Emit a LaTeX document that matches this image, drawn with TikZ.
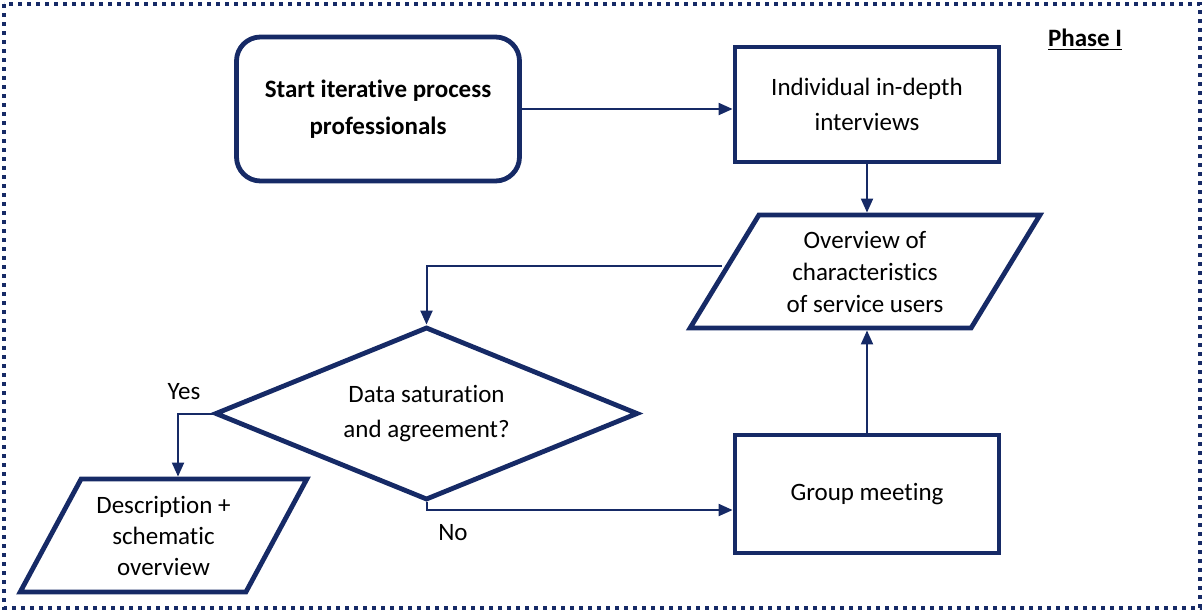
\documentclass[tikz,border=0pt]{standalone}
\usepackage{fontspec}
\setmainfont[Ligatures = NoCommon]{Carlito}
\usetikzlibrary{shapes.geometric,arrows.meta}

\definecolor{navy}{RGB}{22,42,102}

\begin{document}
\begin{tikzpicture}[x = 0.5pt, y = -0.5pt,
						font = \fontsize{12.5}{15.5}\selectfont,
						box/.style = {rectangle, draw = navy, line width = 2.4pt,
						minimum width = 132pt, align = center},
						startbox/.style = {rectangle, rounded corners = 12pt, draw = navy,
						line width = 2.4pt, align = center},
						iobox/.style = {trapezium, trapezium stretches = true,
						trapezium left angle = 58, trapezium right angle = 122,
						draw = navy, line width = 2.4pt, inner sep = 0pt, align = center},
						decision/.style = {diamond, draw = navy, line width = 2.4pt,
						shape aspect = 2.45, inner sep = 0pt, align = center},
						flow/.style = {draw = navy, line width = 1pt,
						-{Triangle[length = 7pt, width = 6pt]}}]

				\useasboundingbox (0,0) rectangle (1204,612);
				\draw [navy, line width = 2pt, dash pattern = on 2pt off 2.5pt]
				(4,4) rectangle (1200,608);

				\node [startbox, minimum width = 141.5pt, minimum height = 72pt] (start) at (378,109)
				{\textbf{Start iterative process}\\[3pt]\textbf{professionals}};
				\node [box, minimum height = 57.5pt] (interv) at (867,104.5)
				{Individual in-depth\\[2pt]interviews};
				\node [iobox, minimum width = 175pt, minimum height = 56.5pt] (overv) at (865,271.5)
				{Overview of\\[0.5pt]characteristics\\[0.5pt]of service users};
				\node [decision, minimum width = 211.5pt, minimum height = 86.5pt] (decis) at (426.5,413.5)
				{Data saturation\\[2pt]and agreement?};
				\node [box, minimum height = 59pt] (group) at (867,494) {Group meeting};
				\node [iobox, minimum width = 143.5pt, minimum height = 56.5pt] (descr) at (163.5,535.5)
				{Description +\\schematic\\overview};

				\node [font = \fontsize{12.5}{15.5}\selectfont\bfseries] (phase) at (1085,40) {\underline{Phase I}};
				\node (yes) at (184,392) {Yes};
				\node (no) at (453,533) {No};

				\draw [flow] (start.east) -- (start.east -| interv.west);
				\draw [flow] (interv.south) -- (interv.south |- overv.north);
				\draw [flow] (group.north) -- (group.north |- overv.south);
				\draw [flow] ([yshift = 3pt]overv.west) -| (decis.north);
				\draw [flow] (decis.west) -| ([xshift = 7.25pt]descr.north);
				\draw [flow] (decis.south) |- ([yshift = -8pt]group.west);
\end{tikzpicture}
\end{document}
